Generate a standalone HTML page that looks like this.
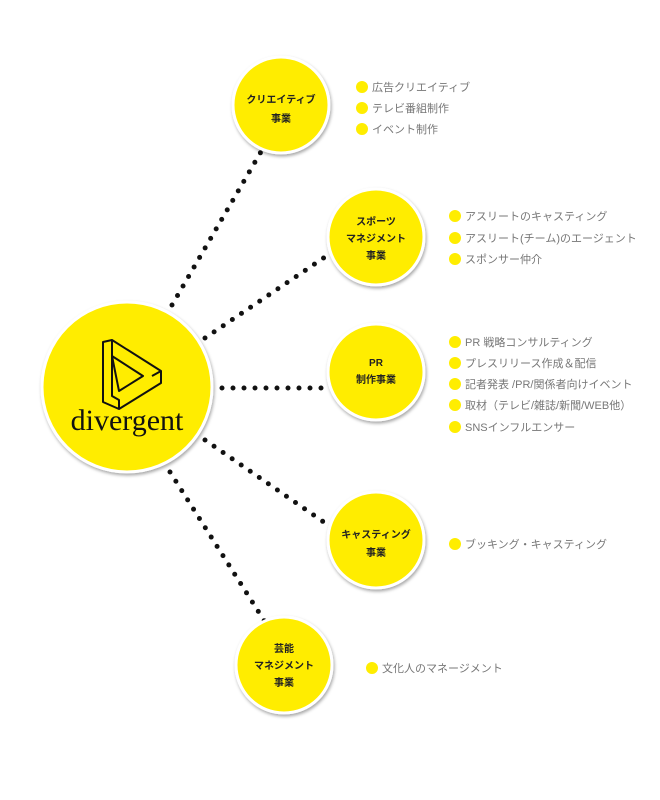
<!DOCTYPE html>
<html><head><meta charset="utf-8"><style>
body{margin:0;background:#fff;}
svg{display:block;}
.t{font-family:"Liberation Sans","Noto Sans CJK JP",sans-serif;font-size:10px;fill:#222;font-weight:bold;text-anchor:middle;}
.l{font-family:"Liberation Sans","Noto Sans CJK JP",sans-serif;font-size:11px;fill:#777;}
</style></head><body>
<svg width="660" height="800" viewBox="0 0 660 800">
<defs><filter id="s" x="-20%" y="-20%" width="140%" height="140%"><feDropShadow dx="1" dy="2" stdDeviation="1.5" flood-color="#000" flood-opacity="0.35"/></filter></defs>
<g stroke="#111" stroke-width="5" stroke-linecap="round" stroke-dasharray="0 11" fill="none">
<line x1="172" y1="305" x2="262" y2="150"/>
<line x1="205" y1="338" x2="328" y2="255"/>
<line x1="222" y1="388" x2="328" y2="388"/>
<line x1="205" y1="440" x2="328" y2="525"/>
<line x1="170" y1="472" x2="265" y2="622"/>
</g>
<g fill="#ffed00" stroke="#fff" stroke-width="3" filter="url(#s)">
<circle cx="127" cy="387" r="85"/>
<circle cx="281" cy="105" r="48"/>
<circle cx="376" cy="237" r="48"/>
<circle cx="376" cy="372" r="48"/>
<circle cx="376" cy="540" r="48"/>
<circle cx="284" cy="665" r="48"/>
</g>
<g fill="none" stroke="#111" stroke-width="2" stroke-linejoin="round">
<path d="M103 342 L112 340 L161 371 L161 383 L119 409 L103 402 Z"/>
<path d="M112 340 L112 396 L119 400 L119 409"/>
<path d="M112 356 L143 376 L119 391 Z"/>
<path d="M161 371 L152 376"/>
</g>
<text x="127" y="430" font-family="Liberation Serif,serif" font-size="30" text-anchor="middle" fill="#111">divergent</text>
<text class="t" x="281" y="103">クリエイティブ</text><text class="t" x="281" y="122">事業</text>
<text class="t" x="376" y="225">スポーツ</text><text class="t" x="376" y="242">マネジメント</text><text class="t" x="376" y="259">事業</text>
<text class="t" x="376" y="366">PR</text><text class="t" x="376" y="383">制作事業</text>
<text class="t" x="376" y="538">キャスティング</text><text class="t" x="376" y="556">事業</text>
<text class="t" x="284" y="652">芸能</text><text class="t" x="284" y="669">マネジメント</text><text class="t" x="284" y="686">事業</text>
<g fill="#ffed00">
<circle cx="362" cy="87" r="6"/><circle cx="362" cy="108" r="6"/><circle cx="362" cy="129" r="6"/>
<circle cx="455" cy="216" r="6"/><circle cx="455" cy="238" r="6"/><circle cx="455" cy="259" r="6"/>
<circle cx="455" cy="342" r="6"/><circle cx="455" cy="363" r="6"/><circle cx="455" cy="384" r="6"/><circle cx="455" cy="405" r="6"/><circle cx="455" cy="427" r="6"/>
<circle cx="455" cy="544" r="6"/>
<circle cx="372" cy="668" r="6"/>
</g>
<text class="l" x="372" y="91">広告クリエイティブ</text>
<text class="l" x="372" y="112">テレビ番組制作</text>
<text class="l" x="372" y="133">イベント制作</text>
<text class="l" x="465" y="220">アスリートのキャスティング</text>
<text class="l" x="465" y="242">アスリート(チーム)のエージェント</text>
<text class="l" x="465" y="263">スポンサー仲介</text>
<text class="l" x="465" y="346">PR 戦略コンサルティング</text>
<text class="l" x="465" y="367">プレスリリース作成＆配信</text>
<text class="l" x="465" y="388">記者発表 /PR/関係者向けイベント</text>
<text class="l" x="465" y="409">取材（テレビ/雑誌/新聞/WEB他）</text>
<text class="l" x="465" y="431">SNSインフルエンサー</text>
<text class="l" x="465" y="548">ブッキング・キャスティング</text>
<text class="l" x="382" y="672">文化人のマネージメント</text>
</svg>
</body></html>
